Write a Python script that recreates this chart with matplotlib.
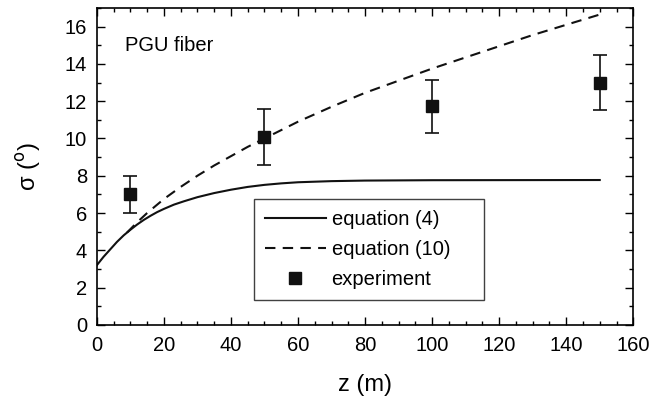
import numpy as np
import matplotlib
matplotlib.use("Agg")
import matplotlib.pyplot as plt
from matplotlib.lines import Line2D
from matplotlib.ticker import MultipleLocator

plt.rcParams["font.family"] = ["Liberation Sans", "DejaVu Sans"]

# -----------------------------
# Data
# -----------------------------
EQ4_Z = [0, 2, 4, 6, 8, 10, 12, 14, 16, 18, 20, 23, 26, 30, 35, 40, 45,
         50, 55, 60, 70, 80, 100, 150]
EQ4_SIGMA = [3.2, 3.65, 4.05, 4.45, 4.8, 5.1, 5.38, 5.63, 5.85, 6.05, 6.22,
             6.45, 6.63, 6.85, 7.07, 7.25, 7.4, 7.51, 7.59, 7.65, 7.71,
             7.74, 7.76, 7.77]

EQ10_Z = [9, 12, 15, 20, 25, 30, 35, 40, 45, 50, 60, 70, 80, 90, 100, 110,
          120, 130, 140, 150]
EQ10_SIGMA = [4.95, 5.5, 6.0, 6.75, 7.4, 8.0, 8.55, 9.05, 9.55, 10.0, 10.9,
              11.7, 12.45, 13.1, 13.75, 14.35, 14.95, 15.55, 16.1, 16.65]

EXP_Z = [10, 50, 100, 150]
EXP_SIGMA = [7.0, 10.1, 11.72, 13.0]
EXP_ERR = [1.0, 1.5, 1.42, 1.47]


def main():
    fig = plt.figure(figsize=(6.68, 4.01), dpi=100)
    ax = fig.add_axes([0.145, 0.19, 0.803, 0.79])

    ax.plot(EQ4_Z, EQ4_SIGMA, color="#111111", linewidth=1.5,
            label="equation (4)")
    ax.plot(EQ10_Z, EQ10_SIGMA, color="#111111", linewidth=1.5,
            linestyle=(0, (5, 3.5)), label="equation (10)")
    ax.errorbar(EXP_Z, EXP_SIGMA, yerr=EXP_ERR, fmt="s", color="#111111",
                markersize=8, capsize=5, elinewidth=1.2, capthick=1.2,
                label="experiment")

    ax.set_xlim(0, 160)
    ax.set_ylim(0, 17)
    ax.xaxis.set_major_locator(MultipleLocator(20))
    ax.xaxis.set_minor_locator(MultipleLocator(5))
    ax.yaxis.set_major_locator(MultipleLocator(2))
    ax.yaxis.set_minor_locator(MultipleLocator(1))
    ax.tick_params(which="both", direction="in", top=True, right=True,
                   width=1.0, labelsize=14.5)
    ax.tick_params(which="major", length=6)
    ax.tick_params(which="minor", length=3)
    ax.tick_params(axis="x", pad=8)
    ax.tick_params(axis="y", pad=7)
    for spine in ax.spines.values():
        spine.set_linewidth(1.2)

    ax.set_xlabel("z (m)", fontsize=17, labelpad=14)
    ax.set_ylabel("σ ($^{\\mathrm{o}}$)", fontsize=17, labelpad=16)

    ax.text(8.5, 14.7, "PGU fiber", fontsize=14.5)

    handles, labels = ax.get_legend_handles_labels()
    # errorbar handle -> plain marker for the legend
    handles[2] = Line2D([], [], marker="s", linestyle="none",
                        color="#111111", markersize=8)
    leg = ax.legend(handles, labels, loc="lower left",
                    bbox_to_anchor=(0.293, 0.078, 0.429, 0.3),
                    mode="expand", borderaxespad=0, fontsize=14.5,
                    frameon=True, fancybox=False, edgecolor="#111111",
                    handlelength=3.0, handletextpad=0.3,
                    borderpad=0.55, labelspacing=0.55)
    leg.get_frame().set_linewidth(1.0)

    fig.savefig("out.png", dpi=100)
    plt.close(fig)


if __name__ == "__main__":
    main()
